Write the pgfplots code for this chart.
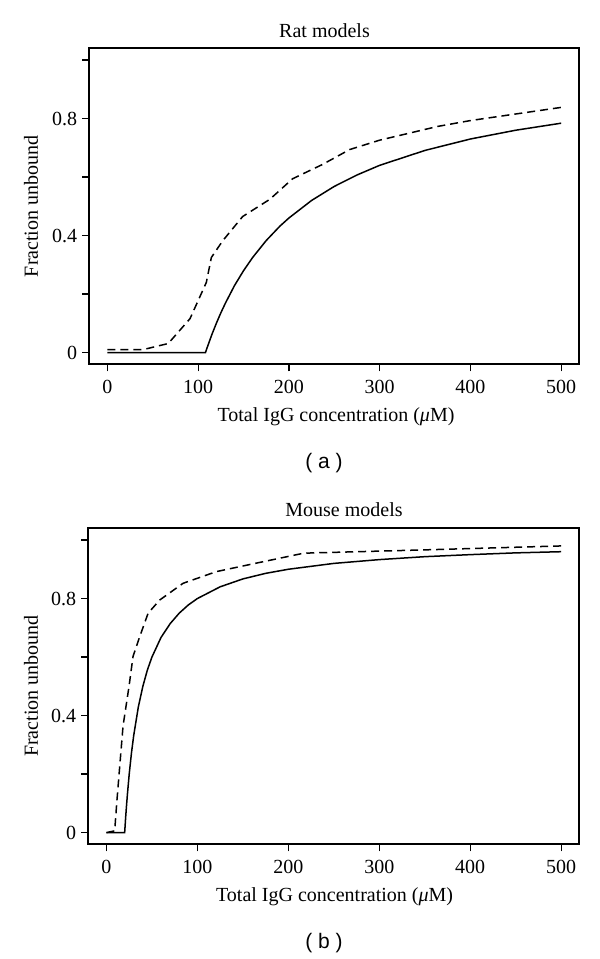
\documentclass[border=0pt]{standalone}
\usepackage{fontspec}
\setmainfont{Liberation Serif}
\newfontfamily\capfont{Liberation Sans}
\usepackage{pgfplots}
\pgfplotsset{compat=1.18}

% shared look of both panels (R base graphics style)
\pgfplotsset{rpanel/.style={
    scale only axis, width=245pt, height=158pt,
    xmin=-20, xmax=520, ymin=-0.04, ymax=1.04,
    xtick={0,100,...,500},
    ytick={0,0.2,0.4,0.6,0.8,1.0},
    yticklabels={0,,0.4,,0.8,},
    axis lines=box,
    tick align=outside,
    xtick pos=bottom, ytick pos=left,
    major tick length=3.5pt,
    every tick/.style={black, line width=0.6pt},
    axis line style={black, line width=0.75pt},
    ticklabel style={font=\fontsize{10}{12}\selectfont},
    /pgf/number format/assume math mode=true,
    xticklabel style={yshift=-1pt},
    yticklabel style={xshift=1pt},
    anchor=south west,
    clip=false,
  },
  solidc/.style={black, line width=0.75pt},
  dashc/.style={black, line width=0.75pt, dash pattern=on 4pt off 2.5pt},
}

\begin{document}
\begin{tikzpicture}
\useasboundingbox (0,0) rectangle (300pt,479.5pt);

% (a) Rat models
\begin{axis}[rpanel, at={(44.65pt,297.35pt)}]
\addplot[solidc] coordinates {
  (0,0) (108,0) (110,0.018) (115,0.061) (120,0.1) (125,0.136) (130,0.169)
  (140,0.229) (150,0.28) (160,0.325) (175,0.383) (190,0.432) (200,0.46)
  (225,0.52) (250,0.568) (275,0.607) (300,0.64) (350,0.691) (400,0.73)
  (450,0.76) (500,0.784)
};
\addplot[dashc] coordinates {
  (0,0.010) (39,0.010) (67,0.031) (91,0.116) (109,0.24) (114.5,0.325)
  (127,0.382) (149,0.465) (179,0.524) (204,0.594) (237,0.643) (267,0.694)
  (300,0.726) (364,0.773) (400,0.793) (500,0.838)
};
\end{axis}
\draw[black, line width=0.9pt] (44.65pt,297.35pt) rectangle (289.65pt,455.35pt);

% (b) Mouse models
\begin{axis}[rpanel, at={(44.15pt,57.35pt)}, width=245.5pt]
\addplot[solidc] coordinates {
  (0,0) (20,0) (21,0.048) (22,0.091) (23,0.13) (25,0.2) (27.5,0.273)
  (30,0.333) (35,0.429) (40,0.5) (45,0.556) (50,0.6) (60,0.667) (70,0.714)
  (80,0.75) (90,0.778) (100,0.8) (125,0.84) (150,0.867) (175,0.886)
  (200,0.9) (250,0.92) (300,0.933) (350,0.943) (400,0.95) (450,0.956)
  (500,0.96)
};
\addplot[dashc] coordinates {
  (0,0) (9,0.006) (11.6,0.114) (18.2,0.364) (24.8,0.5) (29.2,0.602)
  (36.6,0.67) (45.8,0.75) (58.6,0.795) (84.2,0.852) (120.9,0.892)
  (164.9,0.921) (217,0.955) (347,0.966) (503,0.98)
};
\end{axis}
\draw[black, line width=0.9pt] (44.15pt,57.35pt) rectangle (289.65pt,215.65pt);

% titles, axis labels and panel captions
\begin{scope}[every node/.style={font=\fontsize{10}{12}\selectfont, inner sep=0pt}]
\node at (162.25pt,464pt) {Rat models};
\node at (172pt,224.5pt) {Mouse models};
\node at (168pt,271pt) {Total IgG concentration (\textit{μ}M)};
\node at (167.3pt,31pt) {Total IgG concentration (\textit{μ}M)};
\node[rotate=90] at (15.5pt,376.35pt) {Fraction unbound};
\node[rotate=90] at (15.5pt,136.5pt) {Fraction unbound};
\node[font=\capfont\fontsize{10.5}{12}\selectfont] at (162pt,248pt) {( a )};
\node[font=\capfont\fontsize{10.5}{12}\selectfont] at (162pt,8pt) {( b )};
\end{scope}
\end{tikzpicture}
\end{document}
